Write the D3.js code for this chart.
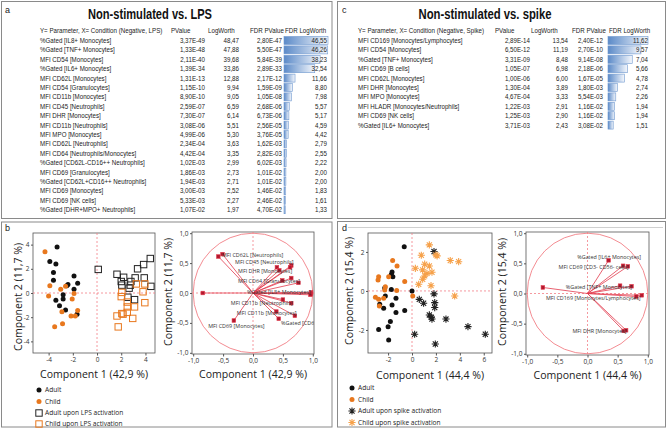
<!DOCTYPE html>
<html>
<head>
<meta charset="utf-8">
<script src="https://cdn.jsdelivr.net/npm/d3@7"></script>
<style>
  body { margin: 0; background: #fff; }
  .tbl { font-family: "Liberation Sans", Arial, sans-serif; font-size: 7.2px; fill: #222; }
  .ttl { font-family: "Liberation Sans", Arial, sans-serif; font-weight: bold; font-size: 15.5px; fill: #111; }
  .axl { font-family: "Open Sans", "Noto Sans", sans-serif; font-size: 11.5px; fill: #222; }
  .tick text { font-family: "Open Sans", "Noto Sans", sans-serif; font-size: 6.5px; fill: #333; }
  .leg { font-family: "Open Sans", "Noto Sans", sans-serif; font-size: 6.6px; fill: #222; }
  .lab { font-family: "Open Sans", "Noto Sans", sans-serif; font-size: 5.4px; fill: #333; }
  .pl { font-family: "Liberation Sans", Arial, sans-serif; font-size: 9px; fill: #222; }
</style>
</head>
<body>
<svg id="fig" width="667" height="429"></svg>
<script>
// ---- table a : Non-stimulated vs. LPS
var lpsParams = ['%Gated  [IL8+ Monocytes]', '%Gated  [TNF+ Monocytes]', 'MFI CD54 [Monocytes]', '%Gated  [IL6+ Monocytes]',
    'MFI CD62L [Monocytes]', 'MFI CD54 [Granulocytes]', 'MFI CD11b [Monocytes]', 'MFI CD45 [Neutrophils]', 'MFI DHR [Monocytes]',
    'MFI CD11b [Neutrophils]', 'MFI MPO [Monocytes]', 'MFI CD62L [Neutrophils]', 'MFI CD64 [Neutrophils/Monocytes]',
    '%Gated [CD62L-CD16++ Neutrophils]', 'MFI CD69 [Granulocytes]', '%Gated [CD62L+CD16++ Neutrophils]', 'MFI CD69 [Monocytes]',
    'MFI CD69 [NK cells]', '%Gated [DHR+MPO+ Neutrophils]'];
var lpsPValue = [3.37e-49, 1.33e-48, 2.11e-40, 1.39e-34, 1.31e-13, 1.15e-10, 8.90e-10, 2.59e-07, 7.30e-07, 3.08e-06,
    4.99e-06, 2.34e-04, 4.42e-04, 1.02e-03, 1.86e-03, 1.94e-03, 3.00e-03, 5.33e-03, 1.07e-02];
var lpsLogWorth = [48.47, 47.88, 39.68, 33.86, 12.88, 9.94, 9.05, 6.59, 6.14, 5.51, 5.30, 3.63, 3.35, 2.99, 2.73, 2.71, 2.52, 2.27, 1.97];
var lpsFdrPValue = [2.80e-47, 5.50e-47, 5.84e-39, 2.89e-33, 2.17e-12, 1.59e-09, 1.05e-08, 2.68e-06, 6.73e-06, 2.56e-05,
    3.76e-05, 1.62e-03, 2.82e-03, 6.02e-03, 1.01e-02, 1.01e-02, 1.46e-02, 2.46e-02, 4.70e-02];
var lpsFdrLogWorth = [46.55, 46.26, 38.23, 32.54, 11.66, 8.80, 7.98, 5.57, 5.17, 4.59, 4.42, 2.79, 2.55, 2.22, 2.00, 2.00, 1.83, 1.61, 1.33];

// ---- table c : Non-stimulated vs. spike
var spikeParams = ['MFI CD169 [Monocytes/Lymphocytes]', 'MFI CD54 [Monocytes]', '%Gated  [TNF+ Monocytes]', 'MFI CD69 [B cells]',
    'MFI CD62L [Monocytes]', 'MFI DHR [Monocytes]', 'MFI MPO [Monocytes]', 'MFI HLADR [Monocytes/Neutrophils]',
    'MFI CD69 [NK cells]', '%Gated  [IL6+ Monocytes]'];
var spikePValue = [2.89e-14, 6.50e-12, 3.31e-09, 1.05e-07, 1.00e-06, 1.30e-04, 4.67e-04, 1.22e-03, 1.25e-03, 3.71e-03];
var spikeLogWorth = [13.54, 11.19, 8.48, 6.98, 6.00, 3.89, 3.33, 2.91, 2.90, 2.43];
var spikeFdrPValue = [2.40e-12, 2.70e-10, 9.14e-08, 2.18e-06, 1.67e-05, 1.80e-03, 5.54e-03, 1.16e-02, 1.16e-02, 3.08e-02];
var spikeFdrLogWorth = [11.62, 9.57, 7.04, 5.66, 4.78, 2.74, 2.26, 1.94, 1.94, 1.51];

var tableHeaders = ['PValue', 'LogWorth', 'FDR PValue', 'FDR LogWorth'];

// ---- panel b : PCA scores, LPS
var bAdult = [[-3.3, 3.8], [-3.9, 2.6], [-3.4, 2.4], [-3.6, 1.7], [-3.6, 1.05], [-1.9, 1.4], [-2.4, 0.7], [-2.5, 0.6],
    [-1.6, 0.8], [-1.9, 0.3], [-2.8, -0.15], [-2.8, -0.5], [-3.4, -0.6], [-3.1, -1.05], [-2.6, -1.4], [-1.65, -1.75]];
var bChild = [[-4.3, 3.4], [-3.9, 0.6], [-4.0, -0.25], [-3.0, 0.3], [-2.6, 0.55], [-1.9, -0.05], [-2.05, -0.5],
    [-2.9, -1.55], [-2.15, -1.9], [-1.8, -1.9], [-1.6, -1.45], [-2.85, -2.55], [-3.5, -2.8]];
var bAdultLps = [[0.1, 1.95], [1.65, 1.55], [2.2, 1.3], [2.0, 0.95], [2.05, 0.65], [2.8, 0.95], [3.35, 2.0], [3.85, 2.35],
    [4.4, 2.85], [3.15, 1.25], [3.9, 1.25], [4.45, 0.55], [2.75, 0.65], [2.65, 0.4], [2.55, -0.35], [3.1, -0.55]];
var bChildLps = [[2.05, 0.05], [2.0, -0.3], [2.5, -0.75], [2.5, -1.15], [3.25, 0.75], [3.95, 0.75], [3.8, 0.1],
    [3.95, -0.8], [3.1, -1.15], [2.5, -1.6], [2.15, -1.75], [1.65, -1.9], [2.95, -2.1], [1.75, -2.8], [2.05, -1.7]];

// ---- panel b : loadings
var bLoad = [[-0.51, 0.65], [-0.58, 0.61], [-0.84, 0.0], [0.40, 0.43], [0.64, 0.46], [0.62, 0.43], [0.44, 0.38],
    [0.64, 0.25], [0.49, 0.21], [0.76, 0.17], [0.97, 0.01], [0.97, -0.01], [0.96, -0.03], [0.50, -0.11],
    [0.64, -0.17], [0.39, -0.31], [0.70, -0.38], [0.43, -0.43], [-0.32, -0.46]];
var bLoadLabels = ['MFI CD62L [Neutrophils]', 'MFI CD45 [Neutrophils]', 'MFI DHR [Monocytes]', 'MFI CD64 [Granulocytes]',
    '%Gated  [IL8+ Monocytes]', 'MFI CD11b [Neutrophils]', 'MFI CD11b [Monocytes]', '%Gated [CD62L-CD16++ Neutrophils]',
    'MFI CD69 [Monocytes]'];
var bLoadLabelAt = [[-0.52, 0.64], [-0.30, 0.52], [-0.25, 0.37], [-0.25, 0.20], [-0.10, 0.01], [-0.37, -0.17],
    [-0.27, -0.33], [0.47, -0.50], [-0.75, -0.55]];

// ---- panel d : PCA scores, spike
var dAdult = [[-0.65, 2.27], [-1.73, 0.84], [-1.67, 0.97], [-1.6, 0.73], [-2.28, 0.15], [-1.73, 0.07], [0.0, 0.0],
    [-2.23, -0.26], [-2.7, -0.68], [-2.37, -0.89], [-1.34, -0.38], [-1.67, -0.72], [-1.34, -1.11], [-0.61, -1.0],
    [-1.81, -1.57], [-2.79, -1.97], [-2.0, -1.83], [-1.95, -2.51]];
var dChild = [[-2.79, 0.73], [-2.84, 0.56], [-1.62, 1.56], [-1.25, 1.28], [-1.95, 0.73], [-0.61, 0.48], [-2.23, 0.22],
    [-2.28, 0.05], [-3.06, -0.32], [-2.79, -0.43], [-2.37, -0.38], [-2.73, -0.77], [-1.28, 0.02], [0.06, -0.26]];
var dAdultSpike = [[1.84, 2.02], [1.84, -0.15], [0.61, -0.43], [0.97, -0.63], [1.9, -0.6], [1.9, -0.85], [1.45, -1.23],
    [1.62, -1.35], [1.67, -1.44], [2.84, -1.44], [4.68, -1.83], [6.13, -2.22], [0.22, -2.22], [1.95, -2.72]];
var dChildSpike = [[1.45, 2.36], [0.78, 1.83], [2.0, 1.85], [2.1, 1.8], [1.06, 1.37], [1.45, 1.28], [0.28, 1.16],
    [0.89, 1.08], [1.25, 0.9], [1.67, 0.96], [1.06, 0.77], [0.89, 0.6], [0.56, 0.34], [1.59, 0.27], [3.2, 1.56],
    [3.9, 1.5], [3.57, -0.26]];

// ---- panel d : loadings
var dLoad = [[0.35, 0.55], [0.59, 0.46], [0.67, 0.45], [0.54, 0.13], [0.73, 0.12], [-0.74, 0.10], [0.81, -0.05],
    [0.90, -0.03], [0.60, -0.62], [0.64, -0.61]];
var dLoadLabels = ['%Gated  [IL6+ Monocytes]', 'MFI CD69 [CD3- CD56- cells]', '%Gated  [TNF+ Monocytes]',
    'MFI CD169 [Monocytes/Lymphocytes]', 'MFI DHR [Monocytes]'];
var dLoadLabelAt = [[-0.17, 0.61], [-0.48, 0.44], [-0.36, 0.11], [-0.69, -0.07], [-0.25, -0.62]];

var BLACK = '#111', ORANGE = '#e8781e', LIGHTOR = '#f6a14a', RED = '#e23a4c', PINK = '#f27f86';
var SQUEEZE = 0.86;   // table text is a narrow font in the original

var svg = d3.select('#fig');

function fmtP (v)
{
    var s = v.toExponential(2).split('e');
    var e = +s[1];
    return s[0].replace('.', ',') + 'E' + (e < 0 ? '-' : '+') + String(Math.abs(e)).padStart(2, '0');
}

function fmtN (v)
{
    return v.toFixed(2).replace('.', ',');
}

// panel frames
var frames = [[1.5, 1.5, 330.5, 217], [337.5, 1.5, 328, 217], [1.5, 222, 330.5, 205], [337.5, 221.5, 328, 205.5]];
svg.selectAll('rect.frame').data(frames).enter().append('rect')
    .attr('class', 'frame')
    .attr('x', d => d[0]).attr('y', d => d[1])
    .attr('width', d => d[2]).attr('height', d => d[3])
    .attr('fill', 'none').attr('stroke', '#8a8a8a').attr('stroke-width', 1);

svg.append('line').attr('x1', 348).attr('x2', 663).attr('y1', 227.5).attr('y2', 227.5)
    .attr('stroke', '#d0d0d0').attr('stroke-width', 1);

// panel letters
[['a', 5, 13], ['c', 342, 13], ['b', 5, 231], ['d', 342, 231]].forEach(function (p) {
    svg.append('text').attr('class', 'pl').attr('x', p[1]).attr('y', p[2]).text(p[0]);
});

// gradient for the data bars
var grad = svg.append('defs').append('linearGradient').attr('id', 'barGrad');
grad.append('stop').attr('offset', '0%').attr('stop-color', '#5b8ac8');
grad.append('stop').attr('offset', '100%').attr('stop-color', '#f4f7fc');

// squeezed text, placed at x in its row
function sqText (sel, x, anchor)
{
    return sel.append('text').attr('class', 'tbl')
        .attr('text-anchor', anchor || 'start')
        .attr('dy', '0.35em')
        .attr('transform', 'translate(' + x + ',0) scale(' + SQUEEZE + ',1)');
}

function drawTable (o)
{
    var g = svg.append('g');
    g.append('text').attr('class', 'ttl')
        .attr('x', o.titleX).attr('y', 19).attr('text-anchor', 'middle')
        .attr('textLength', o.titleLen).attr('lengthAdjust', 'spacingAndGlyphs')
        .text(o.title);

    // header
    var head = g.append('g').attr('transform', 'translate(0,30.5)');
    sqText(head, o.labelX).text(o.header);
    o.headX.forEach(function (x, i) {
        sqText(head, x).text(tableHeaders[i]);
    });

    var y = d3.scaleLinear().domain([0, o.params.length - 1]).range([40.5, 40.5 + 9.4 * (o.params.length - 1)]);
    var w = d3.scaleLinear().domain([0, d3.max(o.fdrLog)]).range([0, o.barMax]);

    var rows = g.selectAll('g.row').data(o.params).enter().append('g').attr('class', 'row')
        .attr('transform', (d, i) => 'translate(0,' + y(i) + ')');

    rows.append('rect')
        .attr('x', o.barX).attr('y', -4)
        .attr('width', (d, i) => w(o.fdrLog[i])).attr('height', 8)
        .attr('fill', 'url(#barGrad)').attr('stroke', '#6f98cf').attr('stroke-width', 0.6);

    sqText(rows, o.labelX).text(d => d);
    sqText(rows, o.colX[0], 'end').text((d, i) => fmtP(o.pval[i]));
    sqText(rows, o.colX[1], 'end').text((d, i) => fmtN(o.logw[i]));
    sqText(rows, o.colX[2], 'end').text((d, i) => fmtP(o.fdrp[i]));
    sqText(rows, o.colX[3], 'end').text((d, i) => fmtN(o.fdrLog[i]));
}

drawTable({
    title: 'Non-stimulated vs. LPS', titleX: 150, titleLen: 124,
    header: 'Y= Parameter, X= Condition (Negative, LPS)', labelX: 40,
    headX: [171, 208, 250, 285], colX: [205, 239, 282, 327], barX: 284, barMax: 44,
    params: lpsParams, pval: lpsPValue, logw: lpsLogWorth, fdrp: lpsFdrPValue, fdrLog: lpsFdrLogWorth
});

drawTable({
    title: 'Non-stimulated vs. spike', titleX: 485, titleLen: 133,
    header: 'Y= Parameter, X= Condition (Negative, Spike)', labelX: 358,
    headX: [495, 531, 572, 609], colX: [530, 568, 603, 648], barX: 608, barMax: 40,
    params: spikeParams, pval: spikePValue, logw: spikeLogWorth, fdrp: spikeFdrPValue, fdrLog: spikeFdrLogWorth
});

function tickFmt (comma)
{
    return function (v) {
        return comma ? v.toFixed(1).replace('.', ',') : String(v);
    };
}

// generic plot frame with axes, returns scales
function plotFrame (o)
{
    var g = svg.append('g');
    var x = d3.scaleLinear().domain(o.xDom).range([o.x0, o.x1]);
    var y = d3.scaleLinear().domain(o.yDom).range([o.y1, o.y0]);

    var clipId = 'clip' + Math.round(o.x0);
    g.append('clipPath').attr('id', clipId).append('rect')
        .attr('x', o.x0).attr('y', o.y0).attr('width', o.x1 - o.x0).attr('height', o.y1 - o.y0);

    var ax = g.append('g').attr('transform', 'translate(0,' + o.y1 + ')')
        .call(d3.axisBottom(x).tickValues(o.xTicks).tickSize(2.5).tickPadding(1.5).tickFormat(tickFmt(o.comma)));
    var ay = g.append('g').attr('transform', 'translate(' + o.x0 + ',0)')
        .call(d3.axisLeft(y).tickValues(o.yTicks).tickSize(2).tickPadding(1.5).tickFormat(tickFmt(o.comma)));
    [ax, ay].forEach(function (a) {
        a.select('.domain').remove();
        a.selectAll('.tick line').attr('stroke', '#555');
        a.selectAll('.tick text').attr('font-size', null);
    });

    g.append('rect').attr('x', o.x0).attr('y', o.y0).attr('width', o.x1 - o.x0).attr('height', o.y1 - o.y0)
        .attr('fill', 'none').attr('stroke', '#555').attr('stroke-width', 0.8);

    var inner = g.append('g').attr('clip-path', 'url(#' + clipId + ')');
    inner.append('line').attr('x1', x(0)).attr('x2', x(0)).attr('y1', o.y0).attr('y2', o.y1)
        .attr('stroke', PINK).attr('stroke-width', 0.8).attr('stroke-dasharray', '2,2');
    inner.append('line').attr('x1', o.x0).attr('x2', o.x1).attr('y1', y(0)).attr('y2', y(0))
        .attr('stroke', PINK).attr('stroke-width', 0.8).attr('stroke-dasharray', '2,2');

    g.append('text').attr('class', 'axl').attr('x', (o.x0 + o.x1) / 2).attr('y', o.xlabY)
        .attr('text-anchor', 'middle').attr('textLength', 108).attr('lengthAdjust', 'spacingAndGlyphs')
        .text(o.xLabel);
    g.append('text').attr('class', 'axl').attr('text-anchor', 'middle')
        .attr('transform', 'translate(' + o.ylabX + ',' + o.ylabY + ') rotate(-90)')
        .attr('textLength', 108).attr('lengthAdjust', 'spacingAndGlyphs')
        .text(o.yLabel);

    return { g: inner, x: x, y: y, outer: g };
}

function asterisk (r)
{
    var p = d3.path();
    for (var k = 0; k < 4; k++) {
        var a = k * Math.PI / 4;
        p.moveTo(-r * Math.cos(a), -r * Math.sin(a));
        p.lineTo(r * Math.cos(a), r * Math.sin(a));
    }
    return p.toString();
}

function drawMarks (layer, sx, sy, pts, kind, color)
{
    var sel = layer.selectAll(null).data(pts).enter();
    if (kind === 'dot') {
        sel.append('circle').attr('cx', d => sx(d[0])).attr('cy', d => sy(d[1])).attr('r', 2.5).attr('fill', color);
    } else if (kind === 'square') {
        sel.append('rect').attr('x', d => sx(d[0]) - 3.2).attr('y', d => sy(d[1]) - 3.2)
            .attr('width', 6.4).attr('height', 6.4)
            .attr('fill', 'none').attr('stroke', color).attr('stroke-width', 1);
    } else {
        sel.append('path').attr('d', asterisk(3.6))
            .attr('transform', d => 'translate(' + sx(d[0]) + ',' + sy(d[1]) + ')')
            .attr('fill', 'none').attr('stroke', color).attr('stroke-width', 1.1);
    }
}

function drawLegend (x, ys, items)
{
    items.forEach(function (it, i) {
        var layer = svg.append('g');
        drawMarks(layer, v => v, v => v, [[x, ys[i]]], it[0], it[1]);
        svg.append('text').attr('class', 'leg').attr('x', x + 6).attr('y', ys[i]).attr('dy', '0.35em').text(it[2]);
    });
}

function drawLoadings (p, pts, labels, labelAt)
{
    var sx = p.x, sy = p.y;
    p.g.append('ellipse').attr('cx', sx(0)).attr('cy', sy(0))
        .attr('rx', sx(1) - sx(0)).attr('ry', sy(0) - sy(1))
        .attr('fill', 'none').attr('stroke', PINK).attr('stroke-width', 0.9);
    p.g.selectAll(null).data(pts).enter().append('line')
        .attr('x1', sx(0)).attr('y1', sy(0))
        .attr('x2', d => sx(d[0])).attr('y2', d => sy(d[1]))
        .attr('stroke', RED).attr('stroke-width', 0.8);
    p.g.selectAll(null).data(pts).enter().append('rect')
        .attr('x', d => sx(d[0]) - 1.8).attr('y', d => sy(d[1]) - 1.8)
        .attr('width', 3.6).attr('height', 3.6)
        .attr('fill', '#b3182e').attr('stroke', RED).attr('stroke-width', 0.6);
    p.g.selectAll(null).data(labels).enter().append('text').attr('class', 'lab')
        .attr('x', (d, i) => sx(labelAt[i][0])).attr('y', (d, i) => sy(labelAt[i][1]))
        .attr('dy', '0.35em').text(d => d);
}

// ---- b scores
var pb = plotFrame({
    x0: 33, x1: 155, y0: 233, y1: 353, xDom: [-5.29, 4.79], yDom: [-4.96, 4.96],
    xTicks: [-4, -2, 0, 2, 4], yTicks: [-4, -2, 0, 2, 4], comma: false,
    xLabel: 'Component 1  (42,9 %)', yLabel: 'Component 2  (11,7 %)', xlabY: 378, ylabX: 22, ylabY: 297
});
drawMarks(pb.g, pb.x, pb.y, bAdult, 'dot', BLACK);
drawMarks(pb.g, pb.x, pb.y, bChild, 'dot', ORANGE);
drawMarks(pb.g, pb.x, pb.y, bAdultLps, 'square', '#222');
drawMarks(pb.g, pb.x, pb.y, bChildLps, 'square', ORANGE);
drawLegend(39, [390, 401.5, 413, 424], [['dot', BLACK, 'Adult'], ['dot', ORANGE, 'Child'],
    ['square', '#222', 'Adult upon LPS activation'], ['square', ORANGE, 'Child upon LPS activation']]);

// ---- b loadings
var pbl = plotFrame({
    x0: 192, x1: 314, y0: 232, y1: 354, xDom: [-1.02, 1.02], yDom: [-1.02, 1.02],
    xTicks: [-1, -0.5, 0, 0.5, 1], yTicks: [-1, -0.5, 0, 0.5, 1], comma: true,
    xLabel: 'Component 1  (42,9 %)', yLabel: 'Component 2  (11,7 %)', xlabY: 378, ylabX: 172, ylabY: 292
});
drawLoadings(pbl, bLoad, bLoadLabels, bLoadLabelAt);

// ---- d scores
var pd = plotFrame({
    x0: 368, x1: 492, y0: 233, y1: 353, xDom: [-3.68, 6.69], yDom: [-3.18, 2.97],
    xTicks: [-2, 0, 2, 4, 6], yTicks: [-2, 0, 2], comma: false,
    xLabel: 'Component 1  (44,4 %)', yLabel: 'Component 2  (15,4 %)', xlabY: 379, ylabX: 353, ylabY: 291
});
drawMarks(pd.g, pd.x, pd.y, dAdult, 'dot', BLACK);
drawMarks(pd.g, pd.x, pd.y, dChild, 'dot', ORANGE);
drawMarks(pd.g, pd.x, pd.y, dAdultSpike, 'star', '#222');
drawMarks(pd.g, pd.x, pd.y, dChildSpike, 'star', LIGHTOR);
drawLegend(352, [388, 399.5, 411, 422.5], [['dot', BLACK, 'Adult'], ['dot', ORANGE, 'Child'],
    ['star', '#222', 'Adult upon spike activation'], ['star', LIGHTOR, 'Child upon spike activation']]);

// ---- d loadings
var pdl = plotFrame({
    x0: 526, x1: 649, y0: 232, y1: 355, xDom: [-1.02, 1.02], yDom: [-1.02, 1.02],
    xTicks: [-1, -0.5, 0, 0.5, 1], yTicks: [-1, -0.5, 0, 0.5, 1], comma: true,
    xLabel: 'Component 1  (44,4 %)', yLabel: 'Component 2  (15,4 %)', xlabY: 379, ylabX: 506, ylabY: 292
});
drawLoadings(pdl, dLoad, dLoadLabels, dLoadLabelAt);
</script>
</body>
</html>
